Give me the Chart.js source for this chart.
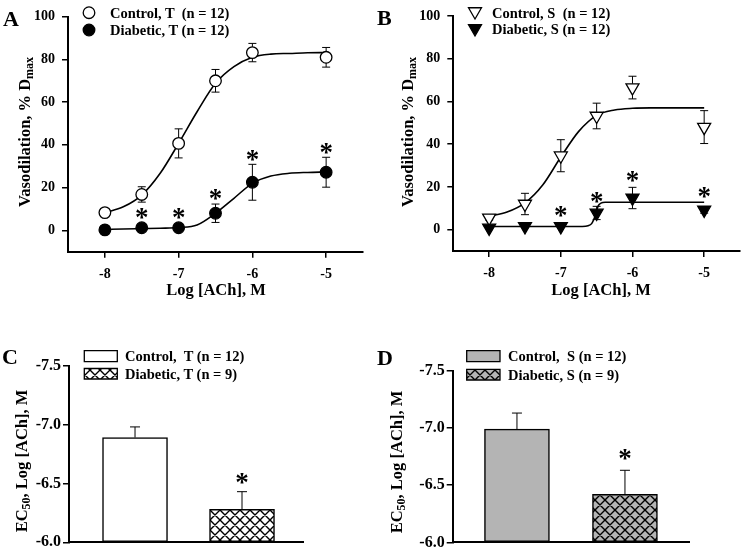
<!DOCTYPE html>
<html>
<head>
<meta charset="utf-8">
<script src="https://cdn.jsdelivr.net/npm/chart.js@4.4.1/dist/chart.umd.min.js"></script>
<style>
  body { margin: 0; background: #fff; }
  #wrap { position: relative; width: 750px; height: 554px; overflow: hidden;
          font-family: 'Liberation Serif', 'Times New Roman', serif; font-weight: bold; color: #000; }
  canvas { position: absolute; }
  .t { position: absolute; white-space: pre; line-height: 1; }
  .lg { font-size: 14.5px; }
  .letter { font-size: 22px; }
  .xt { font-size: 16.5px; width: 200px; text-align: center; }
  .yt { font-size: 16.5px; width: 220px; height: 18px; line-height: 18px; text-align: center;
        transform: rotate(-90deg); transform-origin: center center; }
  sub { font-size: 12px; vertical-align: -3px; line-height: 0; }
</style>
</head>
<body>
<div id="wrap">
  <canvas id="cA" width="375" height="300" style="left:0;top:0"></canvas>
  <canvas id="cB" width="375" height="300" style="left:375px;top:0"></canvas>
  <canvas id="cC" width="375" height="254" style="left:0;top:300px"></canvas>
  <canvas id="cD" width="375" height="254" style="left:375px;top:300px"></canvas>

  <div class="t letter" style="left:3px;top:8px">A</div>
  <div class="t letter" style="left:377px;top:7px">B</div>
  <div class="t letter" style="left:2px;top:346px">C</div>
  <div class="t letter" style="left:377px;top:347px">D</div>

  <div class="t lg" style="left:110px;top:5.5px">Control, T  (n = 12)</div>
  <div class="t lg" style="left:110px;top:22.8px">Diabetic, T (n = 12)</div>
  <div class="t lg" style="left:492px;top:5.5px">Control, S  (n = 12)</div>
  <div class="t lg" style="left:492px;top:22.3px">Diabetic, S (n = 12)</div>
  <div class="t lg" style="left:125px;top:348.8px">Control,  T (n = 12)</div>
  <div class="t lg" style="left:125px;top:366.8px">Diabetic, T (n = 9)</div>
  <div class="t lg" style="left:508px;top:348.8px">Control,  S (n = 12)</div>
  <div class="t lg" style="left:508px;top:367.8px">Diabetic, S (n = 9)</div>

  <div class="t xt" style="left:116px;top:281.8px">Log [ACh], M</div>
  <div class="t xt" style="left:501px;top:281.8px">Log [ACh], M</div>

  <div class="t yt" style="left:-85px;top:123px">Vasodilation, % D<sub>max</sub></div>
  <div class="t yt" style="left:297.5px;top:123px">Vasodilation, % D<sub>max</sub></div>
  <div class="t yt" style="left:-88px;top:452px">EC<sub>50</sub>, Log [ACh], M</div>
  <div class="t yt" style="left:287px;top:453px">EC<sub>50</sub>, Log [ACh], M</div>
</div>

<script>
// ---- data ----
const doses = [-8, -7.5, -7, -6.5, -6, -5];
const doseTicks = [-8, -7, -6, -5];
const vasoTicks = [0, 20, 40, 60, 80, 100];

// panel A (T)
const ctrlT    = [8.3, 16.8, 40.7, 70.0, 83.2, 81.0];
const ctrlTErr = [0.8, 3.6, 6.8, 5.3, 4.3, 4.6];
const diabT    = [0.2, 1.2, 1.2, 8.0, 22.5, 27.2];
const diabTErr = [0.3, 0.5, 0.5, 4.3, 8.4, 7.0];
const starT    = [null, 7.9, 7.9, 17.0, 35.2, 38.2];
const fitX     = [-8, -7.75, -7.5, -7.25, -7, -6.75, -6.5, -6.25, -6, -5.75, -5.5, -5.25, -5];
const fitCtrlT = [8.3, 11.0, 16.5, 26.7, 40.7, 55.5, 68.8, 76.6, 81.0, 82.5, 82.8, 83.1, 83.2];
const fitDiabT = [0.5, 0.6, 0.8, 1.0, 1.3, 2.5, 8.0, 15.0, 22.0, 25.4, 26.7, 27.1, 27.3];

// panel B (S)
const ctrlS    = [5.5, 12.0, 34.6, 53.2, 66.5, 48.0];
const ctrlSErr = [1.0, 5.0, 7.5, 6.0, 5.3, 7.7];
const diabS    = [0.8, 1.5, 1.5, 7.8, 14.8, 9.2];
const diabSErr = [0.3, 0.3, 0.3, 3.1, 5.0, 1.5];
const starS    = [null, null, 8.6, 15.1, 25.0, 17.6];
const fitCtrlS = [6.3, 8.2, 12.5, 21.0, 34.0, 46.0, 53.5, 56.0, 56.8, 57.0, 57.0, 57.0, 57.0];
const fitXDiabS = [-8, -7, -6.7, -6.62, -6.57, -6.52, -6.48, -6.44, -6.38, -6.3, -6, -5];
const fitDiabS  = [1.5, 1.5, 1.5, 1.8, 2.8, 6.5, 11.0, 12.4, 12.8, 12.8, 12.8, 12.8];

// panels C / D (EC50)
const ecGroups = ['Control', 'Diabetic'];
const ecTicks  = [-7.5, -7.0, -6.5, -6.0];
const ecT      = [-6.89, -6.28];
const ecTErr   = [0.09, 0.15];
const ecStarT  = [null, -6.54];
const ecS      = [-6.99, -6.42];
const ecSErr   = [0.14, 0.21];
const ecStarS  = [null, -6.77];

// ---- helpers ----
const INK = '#000';
const GREY = '#b4b4b4';
const FONT = "'Liberation Serif','Times New Roman',serif";
Chart.defaults.font.family = FONT;
Chart.defaults.font.weight = 'bold';
Chart.defaults.color = INK;

const pts = (xs, ys) => xs.map((x, i) => ({ x, y: ys[i] }));
const fixTicks = vals => s => { s.ticks = vals.map(v => ({ value: v })); };

function hatch(bg) {
  const c = document.createElement('canvas');
  c.width = c.height = 10;
  const g = c.getContext('2d');
  g.fillStyle = bg;
  g.fillRect(0, 0, 10, 10);
  g.strokeStyle = INK;
  g.lineWidth = 1.4;
  g.beginPath();
  for (const dx of [-10, 0, 10]) {
    g.moveTo(dx, 0); g.lineTo(dx + 10, 10);
    g.moveTo(dx + 10, 0); g.lineTo(dx, 10);
  }
  g.stroke();
  return g.createPattern(c, 'repeat');
}

function drawMarker(ctx, m) {
  ctx.save();
  ctx.fillStyle = m.fill;
  ctx.strokeStyle = INK;
  ctx.lineWidth = 1.3;
  ctx.beginPath();
  if (m.style === 'circle') {
    ctx.arc(m.x, m.y, m.r, 0, Math.PI * 2);
  } else if (m.style === 'tri') {
    const s = Math.sin(Math.PI / 3) * m.r;
    ctx.moveTo(m.x, m.y + m.r);
    ctx.lineTo(m.x - s, m.y - m.r / 2);
    ctx.lineTo(m.x + s, m.y - m.r / 2);
    ctx.closePath();
  } else {
    ctx.rect(m.x, m.y, m.w, m.h);
  }
  ctx.fill();
  ctx.stroke();
  ctx.restore();
}

// error bars under the markers, asterisks and legend keys on top
const marks = {
  id: 'marks',
  beforeDatasetsDraw(chart, args, o) {
    const ctx = chart.ctx, xs = chart.scales.x, ys = chart.scales.y;
    ctx.save();
    ctx.strokeStyle = INK;
    ctx.lineWidth = 1;
    (o.errors || []).forEach(e => {
      e.x.forEach((xv, i) => {
        const px = xs.getPixelForValue(xv);
        const p0 = ys.getPixelForValue(e.y[i]);
        const pa = ys.getPixelForValue(e.y[i] + e.err[i]);
        const pb = ys.getPixelForValue(e.y[i] - e.err[i]);
        const ends = e.both ? [pa, pb] : [Math.min(pa, pb)];
        const hw = e.cap / 2;
        ctx.beginPath();
        ends.forEach(pe => {
          ctx.moveTo(px, p0); ctx.lineTo(px, pe);
          ctx.moveTo(px - hw, pe); ctx.lineTo(px + hw, pe);
        });
        ctx.stroke();
      });
    });
    ctx.restore();
  },
  afterDatasetsDraw(chart, args, o) {
    const ctx = chart.ctx, xs = chart.scales.x, ys = chart.scales.y;
    ctx.save();
    ctx.fillStyle = INK;
    ctx.font = 'bold 27px ' + FONT;
    ctx.textAlign = 'center';
    ctx.textBaseline = 'alphabetic';
    const m = ctx.measureText('*');
    const shift = (m.actualBoundingBoxAscent - m.actualBoundingBoxDescent) / 2;
    (o.stars || []).forEach(s => {
      s.y.forEach((yv, i) => {
        if (yv === null) return;
        ctx.fillText('*', xs.getPixelForValue(s.x[i]), ys.getPixelForValue(yv) + shift);
      });
    });
    ctx.restore();
    (o.keys || []).forEach(k => drawMarker(ctx, k));
  }
};

function doseChart(id, c) {
  const pointSet = (ys, fill) => ({
    data: pts(doses, ys), showLine: false, order: 0,
    pointStyle: c.style === 'tri' ? 'triangle' : 'circle', pointRotation: c.style === 'tri' ? 180 : 0,
    pointRadius: c.r, pointBackgroundColor: fill, pointBorderColor: INK, pointBorderWidth: 1.3
  });
  const fitSet = (xs, ys) => ({
    data: pts(xs, ys), order: 1, borderColor: INK, borderWidth: 1.6,
    pointRadius: 0, cubicInterpolationMode: 'monotone'
  });
  return new Chart(document.getElementById(id), {
    type: 'line',
    data: { datasets: [
      pointSet(c.ctrl, '#fff'), pointSet(c.diab, INK),
      fitSet(fitX, c.fitCtrl), fitSet(c.fitDiabX, c.fitDiab)
    ] },
    options: {
      responsive: false, animation: false, events: [],
      layout: { padding: c.pad },
      plugins: {
        legend: { display: false }, tooltip: { enabled: false },
        marks: {
          errors: [
            { x: doses, y: c.ctrl, err: c.ctrlErr, both: true, cap: 8 },
            { x: doses, y: c.diab, err: c.diabErr, both: true, cap: 8 }
          ],
          stars: [{ x: doses, y: c.stars }],
          keys: c.keys
        }
      },
      scales: {
        x: {
          type: 'linear', min: -8.5, max: -4.5,
          afterBuildTicks: fixTicks(doseTicks),
          afterFit: s => { s.height = c.xh; },
          border: { color: INK, width: 2 },
          grid: { drawOnChartArea: false, color: INK, lineWidth: 1.5, tickLength: 6 },
          ticks: { font: { size: 14 }, padding: 8, maxRotation: 0 }
        },
        y: {
          min: -10, max: 100,
          afterBuildTicks: fixTicks(vasoTicks),
          afterFit: s => { s.width = c.yw; },
          border: { color: INK, width: 2 },
          grid: { drawOnChartArea: false, color: INK, lineWidth: 1.5, tickLength: 6 },
          ticks: { font: { size: 14 }, padding: 7 }
        }
      }
    },
    plugins: [marks]
  });
}

function ecChart(id, c) {
  return new Chart(document.getElementById(id), {
    type: 'bar',
    data: { datasets: [{
      data: c.vals.map((v, i) => ({ x: i + 1, y: v })),
      backgroundColor: c.fills, borderColor: INK, borderWidth: 1.5,
      borderSkipped: false, barThickness: 65, base: ecTicks[ecTicks.length - 1]
    }] },
    options: {
      responsive: false, animation: false, events: [],
      layout: { padding: c.pad },
      plugins: {
        legend: { display: false }, tooltip: { enabled: false },
        marks: {
          errors: [{ x: [1, 2], y: c.vals, err: c.errs, both: false, cap: 10 }],
          stars: [{ x: [1, 2], y: c.stars }],
          keys: c.keys
        }
      },
      scales: {
        x: {
          type: 'linear', min: c.xmin, max: c.xmax, offset: false,
          afterFit: s => { s.height = c.xh; },
          border: { color: INK, width: 2 },
          grid: { display: false, offset: false },
          ticks: { display: false }
        },
        y: {
          reverse: true, min: ecTicks[0], max: ecTicks[ecTicks.length - 1],
          afterBuildTicks: fixTicks(ecTicks),
          afterFit: s => { s.width = c.yw; },
          border: { color: INK, width: 2 },
          grid: { drawOnChartArea: false, color: INK, lineWidth: 1.5, tickLength: 6 },
          ticks: { font: { size: 16 }, padding: 2, callback: v => v.toFixed(1) }
        }
      }
    },
    plugins: [marks]
  });
}

doseChart('cA', {
  ctrl: ctrlT, ctrlErr: ctrlTErr, diab: diabT, diabErr: diabTErr, stars: starT,
  fitCtrl: fitCtrlT, fitDiabX: fitX, fitDiab: fitDiabT,
  style: 'circle', r: 5.8,
  pad: { left: 0, top: 16.7, right: 12, bottom: 0 }, yw: 68, xh: 48.3,
  keys: [
    { style: 'circle', fill: '#fff', x: 89, y: 12.7, r: 5.8 },
    { style: 'circle', fill: INK, x: 89, y: 30, r: 5.8 }
  ]
});

doseChart('cB', {
  ctrl: ctrlS, ctrlErr: ctrlSErr, diab: diabS, diabErr: diabSErr, stars: starS,
  fitCtrl: fitCtrlS, fitDiabX: fitXDiabS, fitDiab: fitDiabS,
  style: 'tri', r: 7.5,
  pad: { left: 0, top: 16, right: 10, bottom: 0 }, yw: 78.3, xh: 49,
  keys: [
    { style: 'tri', fill: '#fff', x: 100, y: 11.5, r: 7.5 },
    { style: 'tri', fill: INK, x: 100, y: 28.5, r: 7.5 }
  ]
});

ecChart('cC', {
  vals: ecT, errs: ecTErr, stars: ecStarT, fills: ['#fff', hatch('#fff')],
  xmin: 0.383, xmax: 2.570,
  pad: { left: 0, top: 65.7, right: 72, bottom: 0 }, yw: 69, xh: 11.7,
  keys: [
    { style: 'box', fill: '#fff', x: 84.3, y: 50.7, w: 33, h: 11 },
    { style: 'box', fill: hatch('#fff'), x: 84.3, y: 68.5, w: 33, h: 10.5 }
  ]
});

ecChart('cD', {
  vals: ecS, errs: ecSErr, stars: ecStarS, fills: [GREY, hatch(GREY)],
  xmin: 0.405, xmax: 2.593,
  pad: { left: 0, top: 70.7, right: 61, bottom: 0 }, yw: 77.7, xh: 7.3,
  keys: [
    { style: 'box', fill: GREY, x: 91.7, y: 50.7, w: 33.3, h: 11 },
    { style: 'box', fill: hatch(GREY), x: 91.7, y: 69.3, w: 33.3, h: 10.7 }
  ]
});
</script>
</body>
</html>
